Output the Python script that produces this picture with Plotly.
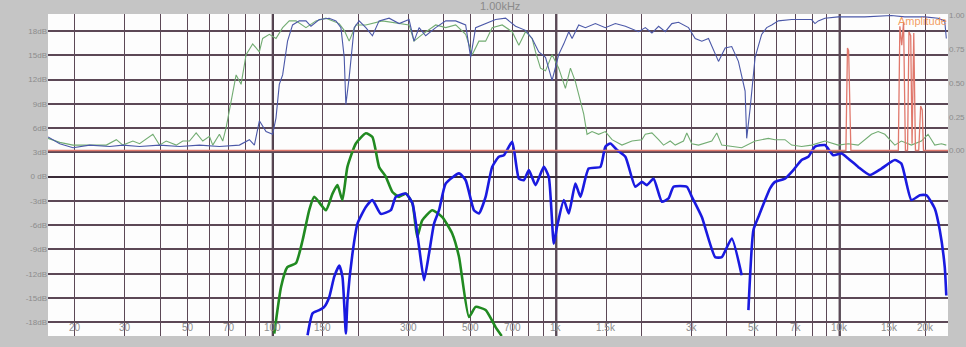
import numpy as np
import plotly.graph_objects as go

# ---- woofer response (dB) ----
woofer_hz = [101.2, 106.9, 112.5, 120.7, 127.3, 134.4, 140.0, 153.9, 162.4, 169.0, 175.9,
             183.3, 196.3, 212.9, 224.6, 237.1, 250.3, 264.2, 278.9, 294.5, 310.8, 323.2,
             336.5, 365.3, 396.2, 429.7, 453.7, 491.9, 519.4, 563.3, 610.8, 642.0]
woofer_db = [-19.4, -13.65, -11.2, -10.7, -7.9, -4.15, -2.5, -4.15, -2.1, -1.05, -2.9,
             1.2, 4.1, 5.35, 4.9, 1.2, 0.0, -1.9, -2.5, -2.1, -3.3, -7.45,
             -5.4, -4.15, -5.0, -7.05, -9.9, -17.35, -16.1, -16.5, -18.6, -19.7]

# ---- mid / tweeter response (dB), None marks the break near 4.6 kHz ----
mid_hz = [132.6, 138.1, 145.8, 151.8, 158.1, 164.6, 171.5, 176.1, 181.0, 183.4, 191.0,
          198.9, 212.9, 224.6, 240.4, 260.8, 271.6, 294.5, 310.8, 328.1, 341.6, 355.7,
          370.5, 385.8, 407.4, 453.7, 479.0, 512.3, 533.5, 563.3, 594.0, 627.3, 653.3,
          698.9, 737.9, 768.4, 800.4, 845.0, 903.6, 941.3, 980.0, 1006, 1063, 1107,
          1168, 1217, 1301, 1431, 1490, 1552, 1637, 1753, 1900, 2005, 2088, 2204,
          2358, 2489, 2593, 2887, 3008, 3262, 3636, 3836, 4159, 4510, None,
          4763, 4961, 5164, 5679, 5912, 6412, 6861, 7337, 7746, 8178, 8868, 9487,
          10146, 10712, 11618, 12775, 14037, 15644, 16505, 17895, 19163, 20213,
          21642, 22537, 23469, 23770]
mid_db = [-19.6, -16.9, -16.5, -16.1, -14.9, -12.4, -11.0, -12.4, -19.4, -15.3, -9.5,
          -5.8, -3.75, -2.9, -4.6, -4.15, -2.5, -2.1, -3.3, -8.7, -12.8, -9.5,
          -5.8, -4.15, -0.85, 0.4, -0.45, -4.15, -4.55, -2.5, 1.2, 2.45, 2.65,
          4.3, -0.25, -0.45, 0.8, -1.05, 1.2, -0.05, -8.3, -6.2, -2.9, -4.55,
          -0.85, -2.5, 1.0, 1.2, 3.7, 4.1, 3.3, 2.45, -1.25, -0.65, -1.05, -0.25,
          -3.1, -2.7, -1.25, -1.25, -2.5, -5.0, -9.95, -9.95, -7.65, -12.2, None,
          -16.5, -6.6, -5.0, -1.45, -0.65, -0.25, 0.8, 2.05, 2.45, 3.7, 3.9, 2.65,
          2.85, 2.25, 1.2, 0.2, 1.0, 2.05, 1.6, -2.9, -2.3, -2.3,
          -3.95, -6.6, -11.15, -14.7]

# ---- coherence of the mid measurement (0..1, right scale) ----
coh_mid_hz = [16.11, 17.71, 19.73, 22.59, 26.57, 29.59, 33.88, 39.84, 46.87, 55.10, 64.80,
              76.21, 82.67, 86.09, 89.65, 94.65, 99.84, 102.6, 105.4, 108.3, 112.7, 117.4,
              124.0, 130.9, 136.3, 145.8, 158.1, 167.0, 173.9, 178.6, 181.0, 185.9, 193.6,
              201.6, 212.9, 224.6, 237.1, 257.2, 278.9, 302.4, 314.9, 328.1, 346.3, 375.5,
              407.4, 441.7, 479.0, 498.8, 519.4, 563.3, 610.8, 662.4, 718.3, 779.1, 821.8,
              867.8, 916.2, 966.6, 1020, 1063, 1107, 1137, 1200, 1267, 1374, 1490, 1616,
              1753, 1952, 2061, 2175, 2296, 2424, 2557, 2700, 2928, 3091, 3262, 3444,
              3735, 3943, 4159, 4391, 4637, 4697, 4829, 5029, 5304, 5526, 5754, 6074,
              6767, 7956, 8178, 8401, 8868, 9879, 12264, 15219, 16968, 19953, 22229,
              23469, 23775]
coh_mid = [0.10, 0.05, 0.02, 0.04, 0.03, 0.04, 0.03, 0.04, 0.03, 0.04, 0.03,
           0.04, 0.08, 0.04, 0.22, 0.14, 0.12, 0.24, 0.49, 0.56, 0.81, 0.93,
           0.96, 0.96, 0.92, 0.97, 0.98, 0.96, 0.91, 0.69, 0.34, 0.54, 0.91,
           0.96, 0.91, 0.85, 0.96, 0.98, 0.94, 0.97, 0.81, 0.91, 0.85, 0.91,
           0.96, 0.96, 0.93, 0.69, 0.91, 0.94, 0.97, 0.98, 0.92, 0.89, 0.83,
           0.73, 0.69, 0.52, 0.71, 0.79, 0.88, 0.83, 0.93, 0.91, 0.94, 0.91, 0.94,
           0.92, 0.88, 0.91, 0.87, 0.92, 0.88, 0.94, 0.95, 0.91, 0.83, 0.81, 0.83,
           0.66, 0.76, 0.77, 0.66, 0.44, 0.09, 0.31, 0.69, 0.86, 0.91, 0.93, 0.96,
           0.97, 0.97, 0.94, 0.96, 0.98, 0.99, 0.99, 1.00, 0.99, 0.99, 0.98,
           0.96, 0.83]

# ---- coherence of the woofer measurement ----
coh_woof_hz = [16.11, 17.71, 19.73, 22.59, 25.86, 28.05, 29.59, 32.08, 33.88, 37.74, 39.84,
               42.06, 45.63, 48.13, 50.82, 53.64, 56.60, 59.76, 61.38, 64.80, 66.58, 68.44,
               71.27, 74.22, 77.27, 80.47, 84.90, 89.65, 92.06, 97.20, 102.6, 108.3, 114.3,
               120.7, 130.9, 141.9, 153.9, 171.5, 178.6, 185.9, 196.3, 212.9, 243.5, 278.9,
               302.4, 314.9, 336.9, 375.5, 407.4, 441.7, 479.0, 505.3, 533.5, 563.3, 594.0,
               644.5, 698.9, 737.9, 779.1, 821.8, 845.0, 879.7, 916.2, 966.6, 1020, 1077,
               1122, 1168, 1200, 1250, 1284, 1337, 1411, 1490, 1573, 1705, 1849, 2005,
               2061, 2175, 2296, 2390, 2524, 2628, 2811, 2887, 3008, 3176, 3537, 3684,
               3836, 4159, 4510, 5029, 5304, 5601, 5912, 6412, 6767, 7337, 7956, 8868,
               9879, 10712, 11618, 12942, 13666, 14429, 15644, 16505, 17895, 19410, 20492,
               21642, 22836, 23775]
coh_woof = [0.09, 0.06, 0.04, 0.04, 0.04, 0.08, 0.04, 0.07, 0.05, 0.12, 0.04,
            0.07, 0.04, 0.07, 0.07, 0.13, 0.07, 0.105, 0.04, 0.12, 0.07, 0.17,
            0.36, 0.56, 0.49, 0.71, 0.79, 0.73, 0.83, 0.86, 0.83, 0.91, 0.96,
            0.96, 0.91, 0.96, 0.98, 0.94, 0.89, 0.81, 0.93, 0.93, 0.96, 0.94,
            0.93, 0.81, 0.86, 0.93, 0.91, 0.93, 0.86, 0.71, 0.81, 0.81, 0.91,
            0.93, 0.88, 0.78, 0.88, 0.83, 0.73, 0.61, 0.59, 0.71, 0.61, 0.46,
            0.61, 0.51, 0.41, 0.27, 0.12, 0.14, 0.12, 0.14, 0.08, 0.04, 0.07, 0.08,
            0.12, 0.13, 0.08, 0.04, 0.07, 0.04, 0.07, 0.13, 0.05, 0.04, 0.07, 0.13,
            0.04, 0.03, 0.02, 0.07, 0.08, 0.09, 0.08, 0.08, 0.04, 0.03, 0.04, 0.07,
            0.04, 0.05, 0.04, 0.12, 0.14, 0.12, 0.04, 0.07, 0.04, 0.07, 0.12,
            0.04, 0.05, 0.04]

# ---- amplitude trace (right scale) ----
amp_hz = [16.1, 10400, 10515, 10650, 10750, 10950, 16100, 16300, 16550, 16800, 17050,
          17350, 17550, 17800, 18000, 18250, 18500, 19000, 19300, 19550, 19750, 24100]
amp = [0.0, 0.0, 0.0, 0.76, 0.74, 0.0, 0.0, 0.92, 0.78, 0.95, 0.0,
       0.0, 0.88, 0.85, 0.05, 0.87, 0.0, 0.0, 0.33, 0.30, 0.0, 0.0]

# ---- axis labelling ----
db_ticks = [18, 15, 12, 9, 6, 3, 0, -3, -6, -9, -12, -15, -18]
db_text = ["18dB", "15dB", "12dB", "9dB", "6dB", "3dB", "0 dB", "-3dB", "-6dB", "-9dB",
           "-12dB", "-15dB", "-18dB"]
coh_ticks = [0.0, 0.25, 0.5, 0.75, 1.0]
coh_text = ["0.00", "0.25", "0.50", "0.75", "1.00"]
hz_labels = [20, 30, 50, 70, 100, 150, 300, 500, 700, 1000, 1500, 3000, 5000, 7000,
             10000, 15000, 20000]
hz_text = ["20", "30", "50", "70", "100", "150", "300", "500", "700", "1k", "1.5k", "3k",
           "5k", "7k", "10k", "15k", "20k"]
hz_minor = [40, 60, 80, 90, 200, 400, 600, 800, 900, 2000, 4000, 6000, 8000, 9000]
hz_decades = [100, 1000, 10000]

GRID = "#5c4856"
LABEL = "#8c8c8c"

fig = go.Figure()
fig.add_trace(go.Scatter(x=coh_woof_hz, y=coh_woof, yaxis="y2", mode="lines",
                         line=dict(color="#72ac72", width=1.1), hoverinfo="skip"))
fig.add_trace(go.Scatter(x=coh_mid_hz, y=coh_mid, yaxis="y2", mode="lines",
                         line=dict(color="#4b58a8", width=1.1), hoverinfo="skip"))
fig.add_trace(go.Scatter(x=amp_hz, y=amp, yaxis="y2", mode="lines",
                         line=dict(color="#e0786c", width=1.3), hoverinfo="skip"))
fig.add_trace(go.Scatter(x=woofer_hz, y=woofer_db, mode="lines",
                         line=dict(color="#218a21", width=2.6, shape="spline", smoothing=0.5),
                         hoverinfo="skip"))
fig.add_trace(go.Scatter(x=mid_hz, y=mid_db, mode="lines", connectgaps=False,
                         line=dict(color="#1a1ae0", width=2.6, shape="spline", smoothing=0.5),
                         hoverinfo="skip"))

# darker decade lines
for f in hz_decades:
    fig.add_shape(type="line", xref="x", yref="paper", x0=f, x1=f, y0=0, y1=1,
                  line=dict(color="#3e2f3b", width=2.2), layer="below")

# frequency labels sit inside the plot, along the bottom edge
for f, t in zip(hz_labels, hz_text):
    fig.add_annotation(x=np.log10(f), y=0, xref="x", yref="paper", text=t,
                       showarrow=False, yanchor="bottom", yshift=1,
                       font=dict(size=10, color=LABEL, family="Liberation Sans"))

fig.add_annotation(x=0.5, y=1, xref="paper", yref="paper", text="1.00kHz", showarrow=False,
                   yanchor="middle", yshift=8, xshift=2,
                   font=dict(size=11, color="#8a8a8a", family="Liberation Sans"))
fig.add_annotation(x=1, y=1, xref="paper", yref="paper", text="Amplitude", showarrow=False,
                   xanchor="right", yanchor="middle", yshift=-7, xshift=1,
                   font=dict(size=11, color="rgba(240,140,70,0.85)", family="Liberation Sans"))

fig.update_layout(
    width=966, height=347,
    margin=dict(l=48, r=18, t=14, b=11, autoexpand=False),
    paper_bgcolor="#c5c5c5", plot_bgcolor="#fdfdfd",
    showlegend=False,
    xaxis=dict(type="log", range=[np.log10(16.1), np.log10(24100)], automargin=False,
               tickmode="array", tickvals=hz_labels, showticklabels=False,
               showgrid=True, gridcolor=GRID, gridwidth=1.2, ticks="",
               showline=False, zeroline=False,
               minor=dict(tickmode="array", tickvals=hz_minor, showgrid=True,
                          gridcolor=GRID, gridwidth=1.2, ticks="")),
    yaxis=dict(range=[-19.7, 20.1], tickmode="array", tickvals=db_ticks, ticktext=db_text,
               automargin=False,
               showgrid=True, gridcolor=GRID, gridwidth=1.6, ticks="",
               zeroline=True, zerolinecolor="#3a2c38", zerolinewidth=2.4,
               tickfont=dict(size=8, color=LABEL, family="Liberation Sans"),
               showline=False),
    yaxis2=dict(range=[-1.374, 1.011], overlaying="y", side="right", anchor="x",
                automargin=False,
                tickmode="array", tickvals=coh_ticks, ticktext=coh_text,
                showgrid=False, zeroline=False, ticks="", showline=False,
                tickfont=dict(size=8, color=LABEL, family="Liberation Sans")),
)

fig.write_html("out.html")
